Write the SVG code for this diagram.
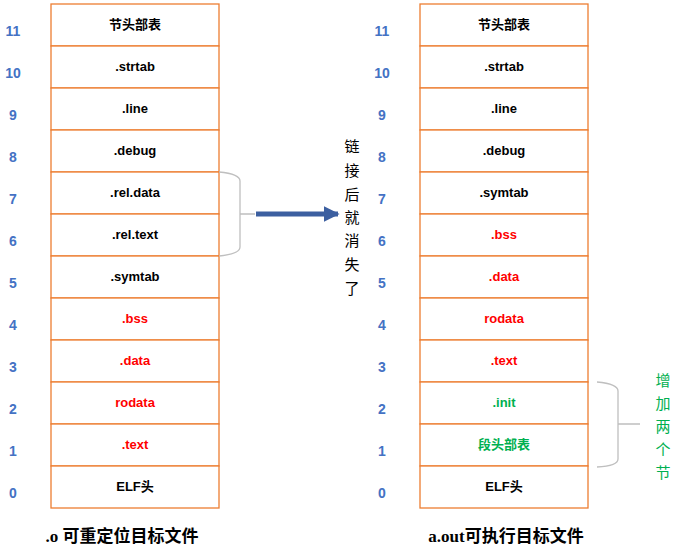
<svg xmlns="http://www.w3.org/2000/svg" width="677" height="549" viewBox="0 0 677 549">
<defs>
<style>
.cell{fill:#fff;stroke:#ED7D31;stroke-width:1.3}
.t{font-family:"Liberation Sans","Noto Sans CJK SC",sans-serif;font-size:13px;font-weight:bold;text-anchor:middle;fill:#000}
.r{fill:#FF0000}
.g{fill:#00B050}
.n{font-family:"Liberation Sans",sans-serif;font-size:14px;font-weight:bold;fill:#4472C4;text-anchor:middle}
.brace{fill:none;stroke:#BFBFBF;stroke-width:1.3}
.v{font-family:"Noto Sans CJK SC",sans-serif;font-size:15px;text-anchor:middle}
.cap{font-family:"Liberation Serif","Noto Sans CJK SC",serif;font-size:17px;font-weight:bold;text-anchor:middle;fill:#000}
</style>
<marker id="ah" viewBox="0 0 10 10" refX="9" refY="5" markerWidth="3.2" markerHeight="3.2" orient="auto" markerUnits="strokeWidth">
<path d="M0,0 L10,5 L0,10 z" fill="#3C5FA0"/>
</marker>
</defs>

<g id="left-numbers">
<text class="n" x="13" y="36">11</text>
<text class="n" x="13" y="78">10</text>
<text class="n" x="13" y="120">9</text>
<text class="n" x="13" y="162">8</text>
<text class="n" x="13" y="204">7</text>
<text class="n" x="13" y="246">6</text>
<text class="n" x="13" y="288">5</text>
<text class="n" x="13" y="330">4</text>
<text class="n" x="13" y="372">3</text>
<text class="n" x="13" y="414">2</text>
<text class="n" x="13" y="456">1</text>
<text class="n" x="13" y="498">0</text>
</g>
<g id="right-numbers">
<text class="n" x="382" y="36">11</text>
<text class="n" x="382" y="78">10</text>
<text class="n" x="382" y="120">9</text>
<text class="n" x="382" y="162">8</text>
<text class="n" x="382" y="204">7</text>
<text class="n" x="382" y="246">6</text>
<text class="n" x="382" y="288">5</text>
<text class="n" x="382" y="330">4</text>
<text class="n" x="382" y="372">3</text>
<text class="n" x="382" y="414">2</text>
<text class="n" x="382" y="456">1</text>
<text class="n" x="382" y="498">0</text>
</g>

<g id="left-table">
<g id="l11"><rect class="cell" x="51" y="4" width="168" height="42"/><text class="t" x="135" y="29">节头部表</text></g>
<g id="l10"><rect class="cell" x="51" y="46" width="168" height="42"/><text class="t" x="135" y="71">.strtab</text></g>
<g id="l9"><rect class="cell" x="51" y="88" width="168" height="42"/><text class="t" x="135" y="113">.line</text></g>
<g id="l8"><rect class="cell" x="51" y="130" width="168" height="42"/><text class="t" x="135" y="155">.debug</text></g>
<g id="l7"><rect class="cell" x="51" y="172" width="168" height="42"/><text class="t" x="135" y="197">.rel.data</text></g>
<g id="l6"><rect class="cell" x="51" y="214" width="168" height="42"/><text class="t" x="135" y="239">.rel.text</text></g>
<g id="l5"><rect class="cell" x="51" y="256" width="168" height="42"/><text class="t" x="135" y="281">.symtab</text></g>
<g id="l4"><rect class="cell" x="51" y="298" width="168" height="42"/><text class="t r" x="135" y="323">.bss</text></g>
<g id="l3"><rect class="cell" x="51" y="340" width="168" height="42"/><text class="t r" x="135" y="365">.data</text></g>
<g id="l2"><rect class="cell" x="51" y="382" width="168" height="42"/><text class="t r" x="135" y="407">rodata</text></g>
<g id="l1"><rect class="cell" x="51" y="424" width="168" height="42"/><text class="t r" x="135" y="449">.text</text></g>
<g id="l0"><rect class="cell" x="51" y="466" width="168" height="42"/><text class="t" x="135" y="491">ELF头</text></g>
</g>

<g id="right-table">
<g id="r11"><rect class="cell" x="420" y="4" width="168" height="42"/><text class="t" x="504" y="29">节头部表</text></g>
<g id="r10"><rect class="cell" x="420" y="46" width="168" height="42"/><text class="t" x="504" y="71">.strtab</text></g>
<g id="r9"><rect class="cell" x="420" y="88" width="168" height="42"/><text class="t" x="504" y="113">.line</text></g>
<g id="r8"><rect class="cell" x="420" y="130" width="168" height="42"/><text class="t" x="504" y="155">.debug</text></g>
<g id="r7"><rect class="cell" x="420" y="172" width="168" height="42"/><text class="t" x="504" y="197">.symtab</text></g>
<g id="r6"><rect class="cell" x="420" y="214" width="168" height="42"/><text class="t r" x="504" y="239">.bss</text></g>
<g id="r5"><rect class="cell" x="420" y="256" width="168" height="42"/><text class="t r" x="504" y="281">.data</text></g>
<g id="r4"><rect class="cell" x="420" y="298" width="168" height="42"/><text class="t r" x="504" y="323">rodata</text></g>
<g id="r3"><rect class="cell" x="420" y="340" width="168" height="42"/><text class="t r" x="504" y="365">.text</text></g>
<g id="r2"><rect class="cell" x="420" y="382" width="168" height="42"/><text class="t g" x="504" y="407">.init</text></g>
<g id="r1"><rect class="cell" x="420" y="424" width="168" height="42"/><text class="t g" x="504" y="449">段头部表</text></g>
<g id="r0"><rect class="cell" x="420" y="466" width="168" height="42"/><text class="t" x="504" y="491">ELF头</text></g>
</g>

<g id="connectors">
<path class="brace" d="M219,172 Q240,174 240,181 L240,247 Q240,254 219,256 M240,214 L255,214"/>
<line x1="256" y1="214" x2="338" y2="214" stroke="#3C5FA0" stroke-width="5" marker-end="url(#ah)"/>
<path class="brace" d="M597,382 Q618,384 618,391 L618,459 Q618,466 597,467 M618,424 L640,424"/>
</g>

<g id="note-removed">
<text class="v" x="352" y="152">链</text>
<text class="v" x="352" y="176">接</text>
<text class="v" x="352" y="200">后</text>
<text class="v" x="352" y="223">就</text>
<text class="v" x="352" y="246">消</text>
<text class="v" x="352" y="270">失</text>
<text class="v" x="352" y="294">了</text>
</g>
<g id="note-added">
<text class="v g" x="663" y="386">增</text>
<text class="v g" x="663" y="409">加</text>
<text class="v g" x="663" y="432">两</text>
<text class="v g" x="663" y="455">个</text>
<text class="v g" x="663" y="478">节</text>
</g>

<text class="cap" x="122" y="542">.o 可重定位目标文件</text>
<text class="cap" x="506" y="542">a.out可执行目标文件</text>
</svg>
